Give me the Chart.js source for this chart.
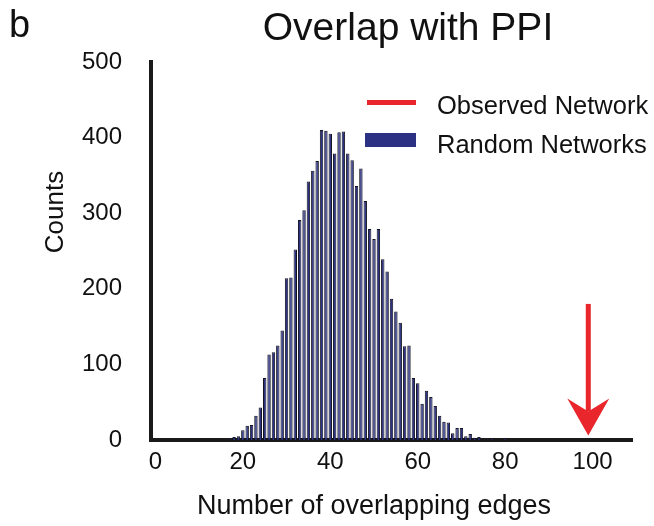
<!DOCTYPE html>
<html><head><meta charset="utf-8">
<script src="https://cdn.jsdelivr.net/npm/chart.js@4.4.1/dist/chart.umd.min.js"></script>
<style>html,body{margin:0;padding:0;background:#fff;}canvas{display:block;}</style>
</head><body>
<canvas id="c" width="654" height="526"></canvas>
<script>
// ---- data ----
const edgeCounts = [17,18,19,20,21,22,23,24,25,26,27,28,29,30,31,32,33,34,35,36,37,38,39,40,
  41,42,43,44,45,46,47,48,49,50,51,52,53,54,55,56,57,58,59,60,61,62,63,64,65,66,67,68,69,70,
  71,72,73,74,75,76,77,78,79,80];
const randomCounts = [1,4,5,13,19,20,32,43,82,113,116,125,145,214,215,252,291,304,342,356,369,410,409,405,
  379,407,408,379,370,336,359,316,279,266,279,239,223,187,170,155,124,125,82,75,48,65,57,45,32,24,23,9,16,16,
  5,8,3,4,0,1,2,0,0,2];
const observedEdges = [99];
const xTickValues = [0,20,40,60,80,100];
const yTickValues = [0,100,200,300,400,500];
const seriesLabels = ['Observed Network','Random Networks'];
const chartTitle = 'Overlap with PPI';
const panelLetter = 'b';
const xTitle = 'Number of overlapping edges';
const yTitle = 'Counts';

// ---- styles ----
const FONT = '"Liberation Sans", Arial, Helvetica, sans-serif';
const INK = '#111111';
const BLUE = '#2c3183';
const BAR_EDGE = '#141420';
const RED = '#e8262b';
const AXIS = '#1a1a1a';
const ARROW_FROM = 180, ARROW_TO = 6;

const barData = edgeCounts.map((x, i) => ({ x: x, y: randomCounts[i] }));

const decor = {
  id: 'decor',
  afterDraw(chart) {
    const c = chart.ctx;
    const xs = chart.scales.x, ys = chart.scales.y;
    c.save();
    c.fillStyle = INK;
    // panel letter
    c.font = '38px ' + FONT;
    c.textAlign = 'left'; c.textBaseline = 'alphabetic';
    c.fillText(panelLetter, 9, 37);
    // title
    c.font = '39px ' + FONT;
    c.textAlign = 'center';
    c.fillText(chartTitle, 408, 40);
    // x title
    c.font = '27px ' + FONT;
    c.fillText(xTitle, 374, 514);
    // y title
    c.save();
    c.font = '26px ' + FONT;
    c.translate(56, 212);
    c.rotate(-Math.PI / 2);
    c.textBaseline = 'middle';
    c.fillText(yTitle, 0, 0);
    c.restore();
    // legend
    c.fillStyle = RED;
    c.fillRect(367, 100, 49, 5);
    c.fillStyle = BLUE;
    c.fillRect(365, 133, 51, 14);
    c.fillStyle = INK;
    c.font = '25.5px ' + FONT;
    c.textAlign = 'left';
    c.fillText(seriesLabels[0], 437, 114);
    c.fillText(seriesLabels[1], 437, 153);
    // observed arrow
    const ax = xs.getPixelForValue(observedEdges[0]);
    const yTop = ys.getPixelForValue(ARROW_FROM);
    const yTip = ys.getPixelForValue(ARROW_TO);
    c.fillStyle = RED;
    c.fillRect(ax - 2.5, yTop, 5, (yTip - 24) - yTop);
    c.beginPath();
    c.moveTo(ax, yTip);
    c.lineTo(ax - 21, yTip - 37);
    c.lineTo(ax, yTip - 24);
    c.lineTo(ax + 21, yTip - 37);
    c.closePath();
    c.fill();
    c.restore();
  }
};

new Chart(document.getElementById('c').getContext('2d'), {
  type: 'bar',
  data: {
    datasets: [{
      label: seriesLabels[1],
      data: barData,
      backgroundColor: BLUE,
      borderColor: BAR_EDGE,
      borderWidth: 1,
      barPercentage: 0.78,
      categoryPercentage: 1
    }]
  },
  options: {
    responsive: false,
    animation: false,
    devicePixelRatio: 1,
    layout: { padding: { left: 0, right: 22, top: 62, bottom: 0 } },
    plugins: { legend: { display: false }, title: { display: false }, tooltip: { enabled: false } },
    scales: {
      x: {
        type: 'linear', min: -1, max: 109, offset: false,
        grid: { display: false, drawTicks: false },
        border: { display: true, width: 4, color: AXIS },
        afterBuildTicks: s => { s.ticks = xTickValues.map(v => ({ value: v })); },
        afterFit: s => { s.height = 86; },
        ticks: { font: { family: FONT, size: 24 }, color: INK, padding: 8, maxRotation: 0, autoSkip: false }
      },
      y: {
        min: 0, max: 500,
        grid: { display: false, drawTicks: false },
        border: { display: true, width: 4, color: AXIS },
        afterBuildTicks: s => { s.ticks = yTickValues.map(v => ({ value: v })); },
        afterFit: s => { s.width = 151; },
        ticks: { font: { family: FONT, size: 24 }, color: INK, padding: 29 }
      }
    }
  },
  plugins: [decor]
});
</script>
</body></html>
